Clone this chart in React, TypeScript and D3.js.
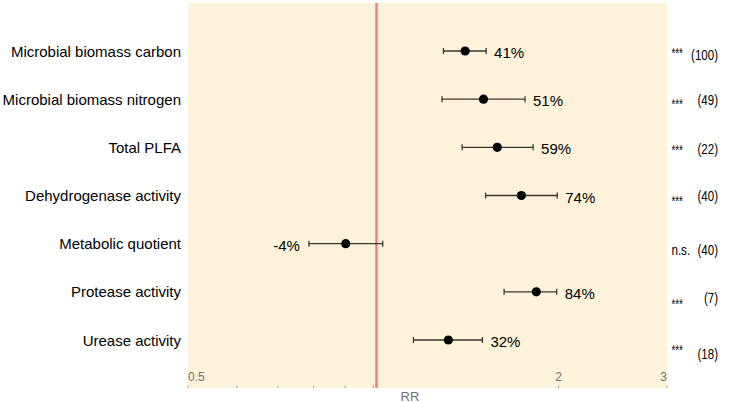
import * as d3 from "d3";

// response ratios (log scale)
const categories = [
  "Microbial biomass carbon",
  "Microbial biomass nitrogen",
  "Total PLFA",
  "Dehydrogenase activity",
  "Metabolic quotient",
  "Protease activity",
  "Urease activity",
];
const rr = [1.41, 1.51, 1.59, 1.74, 0.902, 1.84, 1.324];
const ciLow = [1.30, 1.293, 1.394, 1.522, 0.786, 1.631, 1.162];
const ciHigh = [1.525, 1.764, 1.818, 1.99, 1.036, 1.986, 1.504];
const pctLabels = ["41%", "51%", "59%", "74%", "-4%", "84%", "32%"];
const signif = ["***", "***", "***", "***", "n.s.", "***", "***"];
const counts = ["(100)", "(49)", "(22)", "(40)", "(40)", "(7)", "(18)"];

const tickValues = [0.5, 0.6, 0.7, 0.8, 0.9, 1, 2, 3];
const tickLabels = [0.5, 2, 3];
const refValue = 1.012;

// vertical nudges of the right-hand annotations (they drift in the original)
const countNudge = [3, 0, 1, 0, 6, 6, 13];
const starNudge = [-1, 2, 0, 2, 6, 9, 7];

export default function App() {
  const width = 730;
  const height = 403;
  const panel = { left: 188, right: 667, top: 3, bottom: 388 };

  const x = d3
    .scaleLog()
    .domain([0.5, 3])
    .range([panel.left, panel.right]);

  const y = d3
    .scalePoint<string>()
    .domain(categories)
    .range([51, 340]);

  const font = "Arial, 'Liberation Sans', Helvetica, sans-serif";
  const squeeze = 0.77; // right-hand notes are set in a narrow face

  return (
    <svg
      width={width}
      height={height}
      style={{ position: "absolute", left: 0, top: 0, fontFamily: font }}
    >
      <rect width={width} height={height} fill="#fff" />
      <rect
        x={panel.left}
        y={panel.top}
        width={panel.right - panel.left}
        height={panel.bottom - panel.top}
        fill="#fef3da"
      />

      {tickValues.map((t) => (
        <line
          key={t}
          x1={x(t)}
          x2={x(t)}
          y1={panel.bottom - 2.5}
          y2={panel.bottom}
          stroke="#888"
          strokeWidth={0.8}
        />
      ))}
      {tickLabels.map((t, i) => (
        <text
          key={t}
          x={x(t)}
          y={380.5}
          fontSize={12}
          fill="#707070"
          textAnchor={i === 0 ? "start" : i === tickLabels.length - 1 ? "end" : "middle"}
        >
          {t}
        </text>
      ))}
      <text x={410} y={400.5} fontSize={13} fill="#707070" textAnchor="middle">
        RR
      </text>

      <line
        x1={x(refValue)}
        x2={x(refValue)}
        y1={panel.top}
        y2={panel.bottom}
        stroke="#f08080"
        strokeWidth={2.5}
      />

      {categories.map((c, i) => {
        const cy = y(c) ?? 0;
        const lo = x(ciLow[i]);
        const hi = x(ciHigh[i]);
        const leftLabel = rr[i] < 1;
        const isStars = signif[i] === "***";
        return (
          <g key={c}>
            <text x={181} y={cy + 5.5} fontSize={15} textAnchor="end" fill="#000">
              {c}
            </text>
            <line x1={lo} x2={hi} y1={cy} y2={cy} stroke="#3b3530" strokeWidth={1.3} />
            <line x1={lo} x2={lo} y1={cy - 3} y2={cy + 3} stroke="#3b3530" strokeWidth={1.3} />
            <line x1={hi} x2={hi} y1={cy - 3} y2={cy + 3} stroke="#3b3530" strokeWidth={1.3} />
            <circle cx={x(rr[i])} cy={cy} r={4.6} fill="#000" />
            <text
              x={leftLabel ? lo - 9 : hi + 8}
              y={cy + 7}
              fontSize={15}
              textAnchor={leftLabel ? "end" : "start"}
              fill="#000"
            >
              {pctLabels[i]}
            </text>
            <text
              transform={`translate(671.5,${
                isStars ? cy + starNudge[i] + 8 : cy + countNudge[i] + 5.5
              }) scale(${isStars ? 0.7 : squeeze},1)`}
              fontSize={isStars ? 14 : 15}
              fill="#000"
            >
              {signif[i]}
            </text>
            <text
              transform={`translate(718,${cy + countNudge[i] + 5.5}) scale(${squeeze},1)`}
              fontSize={15}
              textAnchor="end"
              fill="#000"
            >
              {counts[i]}
            </text>
          </g>
        );
      })}
    </svg>
  );
}
